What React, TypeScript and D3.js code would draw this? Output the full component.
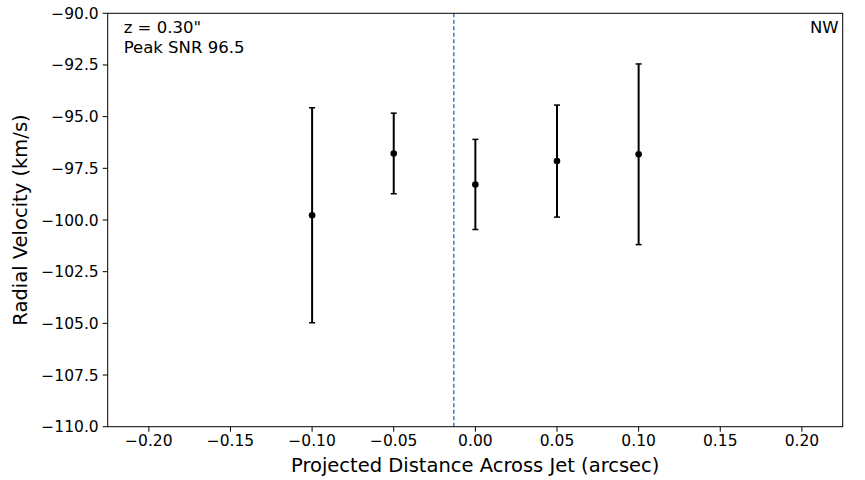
import React from "react";
import * as d3 from "d3";

// measurements across the jet, z = 0.30"
const offsets = [-0.1, -0.05, 0.0, 0.05, 0.1];
const velocity = [-99.77, -96.78, -98.28, -97.15, -96.82];
const velErr = [5.2, 1.95, 2.18, 2.71, 4.37];
const jetCenter = -0.0132;

const xTicks = [-0.2, -0.15, -0.1, -0.05, 0, 0.05, 0.1, 0.15, 0.2];
const yTicks = [-90, -92.5, -95, -97.5, -100, -102.5, -105, -107.5, -110];

const width = 865;
const height = 480;
const margin = { top: 13.3, right: 22.3, bottom: 53.3, left: 107.7 };
const font = "DejaVu Sans, sans-serif";

const fmt = (v: number, digits: number) => {
  const s = Math.abs(v).toFixed(digits);
  return v < 0 ? "\u2212" + s : s;
};

export default function App() {
  const x = d3.scaleLinear().domain([-0.2252, 0.2250]).range([margin.left, width - margin.right]);
  const y = d3.scaleLinear().domain([-110, -90]).range([height - margin.bottom, margin.top]);
  const [x0, x1] = x.range();
  const [y0, y1] = y.range();

  return (
    <svg width={width} height={height} style={{ position: "absolute", left: 0, top: 0, background: "#fff" }} fontFamily={font}>
      <line x1={x(jetCenter)} x2={x(jetCenter)} y1={y1} y2={y0} stroke="#1f77c4" strokeWidth={1.4} strokeDasharray="4,2.5" />

      {offsets.map((o, i) => {
        const cx = x(o);
        const top = y(velocity[i] + velErr[i]);
        const bot = y(velocity[i] - velErr[i]);
        return (
          <g key={i}>
            <line x1={cx} x2={cx} y1={top} y2={bot} stroke="#000" strokeWidth={2} />
            <line x1={cx - 3} x2={cx + 3} y1={top} y2={top} stroke="#000" strokeWidth={1.5} />
            <line x1={cx - 3} x2={cx + 3} y1={bot} y2={bot} stroke="#000" strokeWidth={1.5} />
            <circle cx={cx} cy={y(velocity[i])} r={3.3} fill="#000" />
          </g>
        );
      })}

      <rect x={x0} y={y1} width={x1 - x0} height={y0 - y1} fill="none" stroke="#000" strokeWidth={1} />

      {xTicks.map((t) => (
        <g key={t}>
          <line x1={x(t)} x2={x(t)} y1={y0} y2={y0 + 5} stroke="#000" strokeWidth={1} />
          <text x={x(t)} y={y0 + 19} textAnchor="middle" fontSize={15.5}>{fmt(t, 2)}</text>
        </g>
      ))}
      {yTicks.map((t) => (
        <g key={t}>
          <line x1={x0 - 5} x2={x0} y1={y(t)} y2={y(t)} stroke="#000" strokeWidth={1} />
          <text x={x0 - 9} y={y(t) + 5.5} textAnchor="end" fontSize={15.5}>{fmt(t, 1)}</text>
        </g>
      ))}

      <text x={(x0 + x1) / 2} y={472} textAnchor="middle" fontSize={19.5}>Projected Distance Across Jet (arcsec)</text>
      <text transform={`translate(27,${(y0 + y1) / 2}) rotate(-90)`} textAnchor="middle" fontSize={19.5}>Radial Velocity (km/s)</text>

      <text x={x0 + 16} y={33} fontSize={16.5}>z = 0.30"</text>
      <text x={x0 + 16} y={53} fontSize={16.5}>Peak SNR 96.5</text>
      <text x={x1 - 4} y={33} textAnchor="end" fontSize={16.5}>NW</text>
    </svg>
  );
}
